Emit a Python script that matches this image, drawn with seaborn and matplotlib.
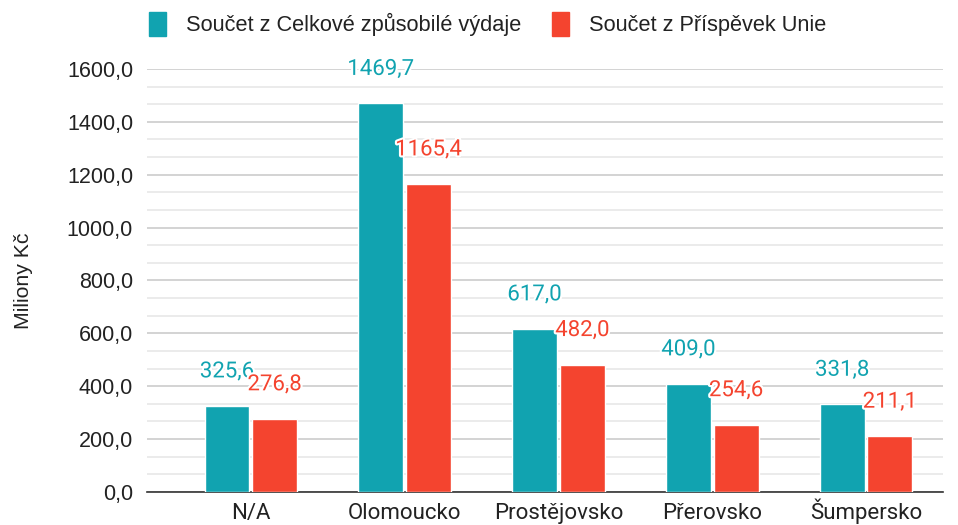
import numpy as np
import pandas as pd
import matplotlib
matplotlib.use("Agg")
import matplotlib.pyplot as plt
import seaborn as sns
from matplotlib.ticker import MultipleLocator, FuncFormatter
from matplotlib.patches import Patch
import matplotlib.patheffects as pe

# data
okresy = ["N/A", "Olomoucko", "Prostějovsko", "Přerovsko", "Šumpersko"]
celkove = [325.6, 1469.7, 617.0, 409.0, 331.8]
unie = [276.8, 1165.4, 482.0, 254.6, 211.1]
serie = ["Součet z Celkové způsobilé výdaje", "Součet z Příspěvek Unie"]
barvy = ["#11A3B0", "#F4442F"]

df = pd.DataFrame({
    "okres": okresy * 2,
    "hodnota": celkove + unie,
    "serie": [serie[0]] * len(okresy) + [serie[1]] * len(okresy),
})

sns.set_style("white")
plt.rcParams["font.family"] = ["Roboto", "DejaVu Sans"]
arial = ["Liberation Sans", "DejaVu Sans"]

fig = plt.figure(figsize=(9.58, 5.25), dpi=100)
ax = fig.add_axes([0.1534, 0.0629, 0.8309, 0.8057])

sns.barplot(data=df, x="okres", y="hodnota", hue="serie", palette=barvy,
            saturation=1, width=0.62, gap=0.06, ax=ax, legend=False, zorder=3)

ax.set_ylim(0, 1600)
ax.set_xlim(-0.676, 4.5)
ax.yaxis.set_major_locator(MultipleLocator(200))
ax.yaxis.set_minor_locator(MultipleLocator(200 / 3))
ax.yaxis.set_major_formatter(FuncFormatter(lambda v, p: f"{v:.1f}".replace(".", ",")))
ax.grid(axis="y", which="major", color="#cccccc", lw=1.2, zorder=0)
ax.grid(axis="y", which="minor", color="#e8e8e8", lw=1.2, zorder=0)
ax.set_axisbelow(True)
for s in ["top", "right", "left"]:
    ax.spines[s].set_visible(False)
ax.spines["bottom"].set_color("#333333")
ax.spines["bottom"].set_linewidth(1.2)
ax.tick_params(axis="both", which="both", length=0, colors="#222222")
ax.tick_params(axis="x", pad=19.5, labelsize=16)
ax.tick_params(axis="y", pad=10, labelsize=15.5)
for t in ax.get_xticklabels():
    t.set_verticalalignment("baseline")
for t in ax.get_yticklabels():
    t.set_family(arial)
ax.set_xlabel("")
ax.set_ylabel("Miliony Kč", fontsize=15.3, color="#222222", labelpad=24, family=arial)

# data labels
for cont, col in zip(ax.containers, barvy):
    for bar in cont:
        h = bar.get_height()
        ax.annotate(f"{h:.1f}".replace(".", ","),
                    (bar.get_x() + bar.get_width() / 2, h),
                    xytext=(0, 34), textcoords="offset pixels",
                    ha="center", va="center", fontsize=16, color=col,
                    annotation_clip=False, zorder=5,
                    path_effects=[pe.withStroke(linewidth=3, foreground="white")])

# legend
handles = [Patch(facecolor=c, edgecolor=c) for c in barvy]
fig.legend(handles, serie, loc="upper center", bbox_to_anchor=(0.509, 1.015),
           ncol=2, frameon=False, prop={"family": arial, "size": 15.7},
           handlelength=0.8, handleheight=1.35,
           columnspacing=1.38, handletextpad=0.92, labelcolor="#222222")

fig.savefig("out.png", dpi=100)
